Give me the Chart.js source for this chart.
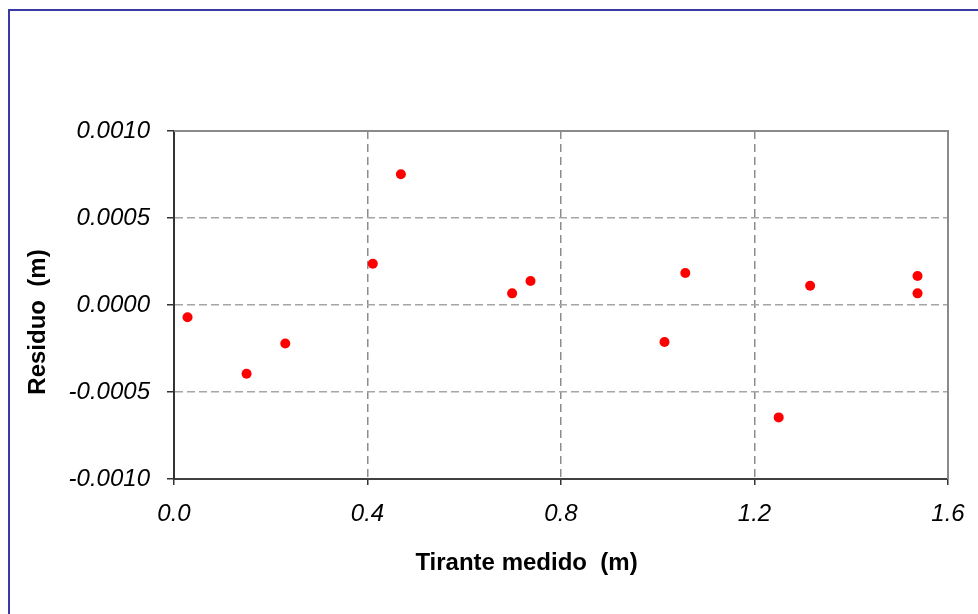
<!DOCTYPE html>
<html>
<head>
<meta charset="utf-8">
<script src="https://cdn.jsdelivr.net/npm/chart.js@4.4.1/dist/chart.umd.min.js"></script>
<style>
  html, body { margin: 0; padding: 0; background: #fff; overflow: hidden; }
  #wrap { position: relative; width: 978px; height: 614px; }
  #frame { position: absolute; left: 8px; top: 9px; width: 1200px; height: 900px;
           border-left: 2px solid #3a3aa6; border-top: 2px solid #3a3aa6; pointer-events: none; }
  canvas { position: absolute; left: 0; top: 0; }
</style>
</head>
<body>
<div id="wrap">
  <canvas id="c" width="978" height="614"></canvas>
  <div id="frame"></div>
</div>
<script>
// Data
const tiranteMedido = [0.028, 0.150, 0.230, 0.411, 0.469, 0.699, 0.737, 1.014, 1.057, 1.250, 1.315, 1.537, 1.537];
const residuo = [-0.000070, -0.000395, -0.000221, 0.000237, 0.000751, 0.000067, 0.000138, -0.000213, 0.000184, -0.000646, 0.000111, 0.000167, 0.000067];

const xTickValues = [0, 0.4, 0.8, 1.2, 1.6];
const xTickLabels = ['0.0', '0.4', '0.8', '1.2', '1.6'];
const yTickValues = [-0.001, -0.0005, 0, 0.0005, 0.001];
const yTickLabels = ['-0.0010', '-0.0005', '0.0000', '0.0005', '0.0010'];

const xTitle = 'Tirante medido  (m)';
const yTitle = 'Residuo  (m)';

const points = tiranteMedido.map((x, i) => ({ x: x, y: residuo[i] }));

const tickFont = { family: '"Liberation Sans", Arial, sans-serif', size: 24, style: 'italic' };

const edgeTransparent = (minV, maxV, col) => (ctx) => {
  const v = ctx.tick ? ctx.tick.value : null;
  if (v === null) return col;
  if (Math.abs(v - minV) < 1e-9 || Math.abs(v - maxV) < 1e-9) return 'rgba(0,0,0,0)';
  return col;
};

const framePlugin = {
  id: 'frameAndTitles',
  beforeDatasetsDraw(chart) {
    const { ctx, chartArea: a } = chart;
    ctx.save();
    ctx.strokeStyle = '#8a8a8a';
    ctx.lineWidth = 2;
    ctx.beginPath();
    ctx.moveTo(a.left, a.top);
    ctx.lineTo(a.right, a.top);
    ctx.lineTo(a.right, a.bottom);
    ctx.stroke();
    ctx.restore();
  },
  afterDraw(chart) {
    const { ctx } = chart;
    ctx.save();
    ctx.fillStyle = '#000';
    ctx.font = 'bold 24px "Liberation Sans", Arial, sans-serif';
    ctx.textAlign = 'center';
    ctx.textBaseline = 'alphabetic';
    ctx.fillText(xTitle, 526.5, 570);
    ctx.translate(45, 322);
    ctx.rotate(-Math.PI / 2);
    ctx.fillText(yTitle, 0, 0);
    ctx.restore();
  }
};

new Chart(document.getElementById('c'), {
  type: 'scatter',
  data: {
    datasets: [{
      data: points,
      backgroundColor: '#ff0000',
      borderColor: '#ff0000',
      borderWidth: 0,
      pointRadius: 5,
      pointHoverRadius: 5
    }]
  },
  options: {
    responsive: false,
    animation: false,
    events: [],
    layout: { padding: { top: 131, right: 30, left: 0, bottom: 0 } },
    plugins: { legend: { display: false }, tooltip: { enabled: false }, title: { display: false } },
    scales: {
      x: {
        type: 'linear',
        min: 0, max: 1.6,
        afterBuildTicks: (s) => { s.ticks = xTickValues.map(v => ({ value: v })); },
        afterFit: (s) => { s.height = 135; s.paddingRight = 0; s.paddingLeft = 0; },
        ticks: {
          font: tickFont, color: '#000', padding: 15, maxRotation: 0, autoSkip: false,
          callback: (v, i) => xTickLabels[i]
        },
        grid: {
          color: edgeTransparent(0, 1.6, '#8c8c8c'),
          lineWidth: 1.5,
          tickColor: '#333', tickLength: 6, tickWidth: 1.5
        },
        border: { display: true, color: '#404040', width: 2, dash: [8, 5] }
      },
      y: {
        type: 'linear',
        min: -0.001, max: 0.001,
        afterBuildTicks: (s) => { s.ticks = yTickValues.map(v => ({ value: v })); },
        afterFit: (s) => { s.width = 174; s.paddingTop = 0; s.paddingBottom = 0; },
        ticks: {
          font: tickFont, color: '#000', padding: 17, autoSkip: false,
          callback: (v, i) => yTickLabels[i]
        },
        grid: {
          color: edgeTransparent(-0.001, 0.001, '#a6a6a6'),
          lineWidth: 1.5,
          tickColor: '#333', tickLength: 7, tickWidth: 1.5
        },
        border: { display: true, color: '#333', width: 2, dash: [8, 4] }
      }
    }
  },
  plugins: [framePlugin]
});
</script>
</body>
</html>
